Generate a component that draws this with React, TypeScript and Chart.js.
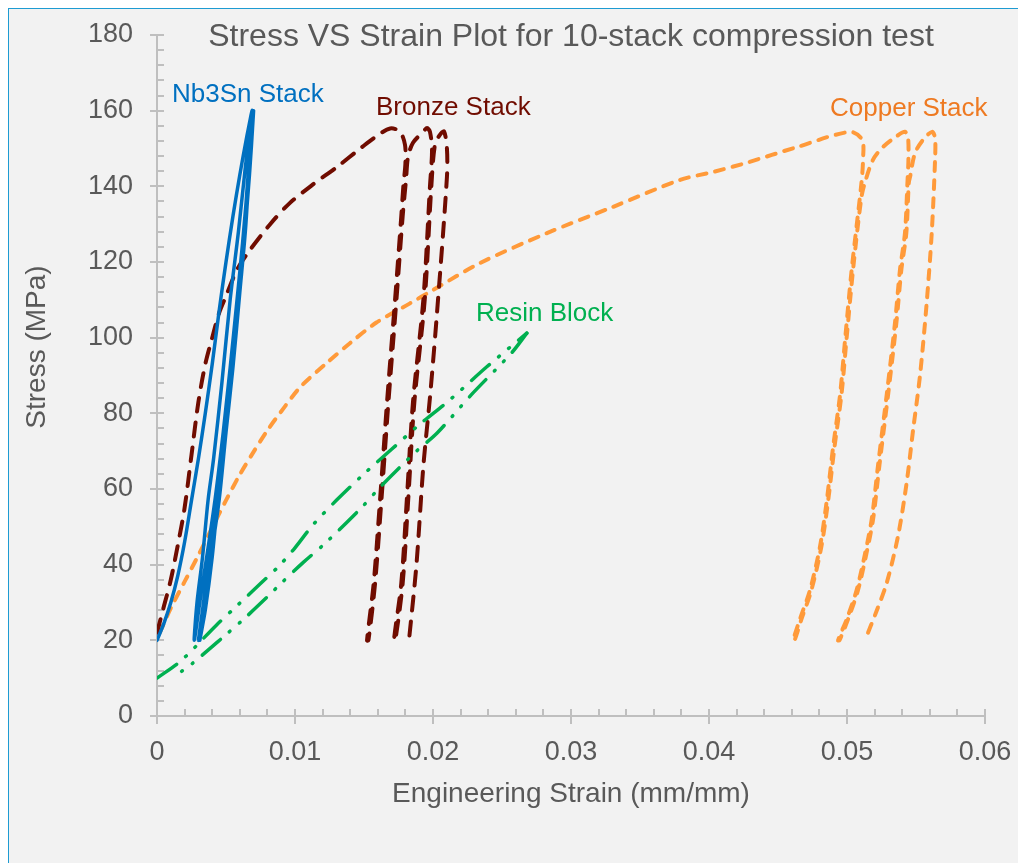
import React, { useEffect, useRef } from "react";
import { Chart, registerables } from "chart.js";

Chart.register(...registerables);

// ---- Nb3Sn stack: first loading, then three unload / reload passes ----
const nb3snStrain = [
  0, 0.0005, 0.001, 0.0015, 0.002, 0.0025, 0.003, 0.0035, 0.004, 0.0045, 0.005, 0.0055, 0.006, 0.0065, 0.0069,
  0.0064, 0.0059, 0.0053, 0.0047, 0.0041, 0.0037, 0.0033, 0.0029, 0.0027,
  0.0031, 0.0036, 0.0042, 0.0048, 0.0054, 0.0059, 0.0063, 0.0066, 0.007,
  0.0066, 0.0062, 0.0058, 0.0053, 0.0048, 0.0043, 0.0038, 0.0033, 0.003,
  0.0034, 0.0039, 0.0045, 0.005, 0.0055, 0.006, 0.0064, 0.0067, 0.007,
  0.0067, 0.0063, 0.0059, 0.0054, 0.0049, 0.0044, 0.004, 0.0035, 0.0031,
];
const nb3snStress = [
  20, 24.5, 30, 37, 46, 57, 68, 80, 93, 107, 120, 132, 143, 153, 160,
  145, 128, 110, 88, 68, 57, 42, 30, 20,
  30, 42, 57, 75, 95, 112, 128, 143, 160,
  142, 125, 110, 92, 75, 57, 42, 28, 20,
  30, 42, 57, 75, 92, 112, 128, 145, 160,
  143, 125, 110, 92, 75, 57, 42, 28, 20,
];

// ---- Bronze stack ----
const bronzeStrain = [
  0, 0.0005, 0.001, 0.0015, 0.002, 0.0025, 0.003, 0.0035, 0.004, 0.0045, 0.005, 0.0058, 0.0067, 0.0082, 0.0096,
  0.0113, 0.013, 0.0149, 0.016, 0.0169, 0.0176, 0.01797, 0.018,
  0.01785, 0.0177, 0.01725, 0.01667, 0.01616, 0.0157, 0.01522,
  0.01532, 0.0158, 0.01626, 0.01677, 0.01735, 0.0178, 0.01805, 0.01819, 0.01855, 0.01928, 0.01957, 0.01978, 0.01993, 0.01978,
  0.0193, 0.01855, 0.0181, 0.0177, 0.01717,
  0.01727, 0.0178, 0.0182, 0.01865, 0.0194, 0.01988, 0.02014, 0.0205, 0.0208, 0.02101, 0.02101,
  0.0203, 0.0198, 0.0193, 0.0188, 0.01826,
];
const bronzeStress = [
  22, 29, 36, 45, 55, 69, 83, 93, 100, 106.5, 111, 118, 123, 130, 135.5,
  140.5, 145, 150.5, 153.5, 155.3, 154.5, 151, 146,
  140, 132, 110, 83, 57, 35, 20,
  20, 35, 57, 83, 110, 132, 142, 147.8, 151.5, 154.4, 155.4, 154.4, 149.6, 140,
  110, 83, 57, 35, 20,
  20, 35, 57, 83, 110, 140, 151, 153.6, 154.5, 150, 142.5,
  107, 85, 66, 40, 20,
];

// ---- Copper stack ----
const copperStrain = [
  0.0002, 0.001, 0.002, 0.003, 0.004, 0.005, 0.006, 0.007, 0.008, 0.009, 0.0104, 0.0123, 0.014, 0.0159, 0.0183,
  0.02, 0.0234, 0.0283, 0.033, 0.0379, 0.0403, 0.0427, 0.0464, 0.0502, 0.0511, 0.05116,
  0.05105, 0.05034, 0.04986, 0.0495, 0.04899, 0.04853, 0.04804, 0.04732, 0.04659, 0.0461,
  0.0462, 0.0467, 0.04742, 0.04814, 0.04863, 0.04909, 0.0496, 0.04996, 0.05044, 0.05104, 0.0513, 0.05188,
  0.05261, 0.05362, 0.0542, 0.05442, 0.05445, 0.05438,
  0.0542, 0.05384, 0.05348, 0.05288, 0.05225, 0.05179, 0.0513, 0.0507, 0.04998, 0.04935,
  0.04945, 0.05008, 0.0508, 0.0514, 0.05189, 0.05235, 0.05298, 0.05358, 0.05394, 0.0543, 0.05448, 0.05457,
  0.05493, 0.05551, 0.05616, 0.05638, 0.05638,
  0.05614, 0.05577, 0.05529, 0.0548, 0.05432, 0.0537, 0.05288, 0.05215, 0.0513,
];
const copperStress = [
  22, 28.5, 35.5, 42.5, 49.8, 57, 63.8, 69.8, 75.5, 80.5, 87, 93.3, 98.6, 104, 109,
  112.6, 119.7, 127.7, 134.5, 141.7, 143.8, 146.2, 150.4, 154.4, 152.3, 147,
  141, 118, 99.4, 85, 71, 56.8, 44.7, 33.3, 25.6, 20,
  20, 25.6, 33.3, 44.7, 56.8, 71, 85, 99.4, 118, 137, 141, 147,
  150.4, 153.3, 154.4, 153, 147, 141,
  127.7, 118, 104, 85, 66.3, 52, 42.8, 33.3, 25.6, 20,
  20, 25.6, 33.3, 42.8, 52, 66.3, 85, 104, 118, 127.7, 141, 142.5,
  148.8, 152.3, 154.4, 152.8, 147,
  127.7, 109, 90, 75.9, 61.6, 47.6, 35.2, 27.8, 20,
];

// ---- Resin block: loading and unloading ----
const resinLoadStrain = [0, 0.0018, 0.0043, 0.0059, 0.0075, 0.0088, 0.0099, 0.0113, 0.013, 0.015, 0.017, 0.019, 0.0212, 0.0239, 0.0268];
const resinLoadStress = [10, 14.8, 24, 29.5, 35, 39.5, 44, 50.5, 57, 64, 70.5, 77, 83.5, 92.3, 101.2];
const resinUnloadStrain = [0.0268, 0.0257, 0.0228, 0.0203, 0.0188, 0.0163, 0.0148, 0.0122, 0.0106, 0.0088, 0.008, 0.0064, 0.005, 0.0037, 0.0026, 0.0017];
const resinUnloadStress = [101.2, 96, 85, 74.8, 70, 61, 55, 45.7, 40.6, 34.4, 31.5, 26, 21.5, 17.4, 14, 11.6];

// ---- Axes ----
const xTickValues = [0, 0.01, 0.02, 0.03, 0.04, 0.05, 0.06];
const yTickValues = [0, 20, 40, 60, 80, 100, 120, 140, 160, 180];
const xMinorStep = 0.002;
const yMinorStep = 4;

const chartTitle = "Stress VS Strain Plot for 10-stack compression test";
const xAxisTitle = "Engineering Strain (mm/mm)";
const yAxisTitle = "Stress (MPa)";

// Curve labels, anchored in data units (left edge, baseline)
const curveLabels = [
  { text: "Nb3Sn Stack", strain: 0.00109, stress: 162.3, color: "#0070c0" },
  { text: "Bronze Stack", strain: 0.01587, stress: 158.9, color: "#700c00" },
  { text: "Copper Stack", strain: 0.04877, stress: 158.6, color: "#ee7a22" },
  { text: "Resin Block", strain: 0.02312, stress: 104.4, color: "#00b050" },
];

const FONT = "'Liberation Sans', Arial, sans-serif";
const TEXT_GRAY = "#595959";
const AXIS_GRAY = "#bfbfbf";

const toPoints = (xs: number[], ys: number[]) => xs.map((x, i) => ({ x, y: ys[i] }));

const decorPlugin = {
  id: "decor",
  beforeDatasetsDraw(chart: any) {
    const { ctx, chartArea, scales } = chart;
    const xs = scales.x;
    const ys = scales.y;
    const L = chartArea.left;
    const B = chartArea.bottom;
    ctx.save();
    ctx.strokeStyle = AXIS_GRAY;
    ctx.lineWidth = 2;
    ctx.beginPath();
    // axis lines
    ctx.moveTo(L, chartArea.top);
    ctx.lineTo(L, B);
    ctx.moveTo(L, B);
    ctx.lineTo(chartArea.right, B);
    // y ticks: major cross the axis, minor sit inside
    for (let v = 0; v <= 180 + 1e-9; v += yMinorStep) {
      const y = Math.round(ys.getPixelForValue(v));
      const major = yTickValues.includes(v);
      ctx.moveTo(major ? L - 7 : L, y);
      ctx.lineTo(L + 7, y);
    }
    // x ticks
    for (let i = 0; i <= 30; i++) {
      const v = i * xMinorStep;
      const x = Math.round(xs.getPixelForValue(v));
      const major = i % 5 === 0;
      ctx.moveTo(x, B - 7);
      ctx.lineTo(x, major ? B + 8 : B);
    }
    ctx.stroke();
    ctx.restore();
  },
  afterDraw(chart: any) {
    const { ctx, chartArea, scales } = chart;
    ctx.save();
    ctx.fillStyle = TEXT_GRAY;
    ctx.textAlign = "center";
    ctx.textBaseline = "alphabetic";
    ctx.font = `32px ${FONT}`;
    ctx.fillText(chartTitle, (chartArea.left + chartArea.right) / 2, chartArea.top + 11);

    ctx.font = `28px ${FONT}`;
    ctx.textBaseline = "middle";
    ctx.fillText(xAxisTitle, (chartArea.left + chartArea.right) / 2, chartArea.bottom + 78);

    ctx.save();
    ctx.translate(28, 338);
    ctx.rotate(-Math.PI / 2);
    ctx.fillText(yAxisTitle, 0, 0);
    ctx.restore();

    ctx.font = `26px ${FONT}`;
    ctx.textAlign = "left";
    ctx.textBaseline = "alphabetic";
    for (const l of curveLabels) {
      ctx.fillStyle = l.color;
      ctx.fillText(l.text, scales.x.getPixelForValue(l.strain), scales.y.getPixelForValue(l.stress));
    }
    ctx.restore();
  },
};

export default function App() {
  const canvasRef = useRef<HTMLCanvasElement>(null);

  useEffect(() => {
    const prevOverflow = document.body.style.overflow;
    document.body.style.overflow = "hidden";
    const canvas = canvasRef.current;
    if (!canvas) return;

    const base = {
      showLine: true,
      pointRadius: 0,
      pointHoverRadius: 0,
      fill: false,
      tension: 0.3,
      borderCapStyle: "round" as const,
      borderJoinStyle: "round" as const,
    };

    const chart = new Chart(canvas, {
      type: "scatter",
      data: {
        datasets: [
          {
            ...base,
            label: "Nb3Sn Stack",
            data: toPoints(nb3snStrain, nb3snStress),
            borderColor: "#0070c0",
            borderWidth: 3.5,
          },
          {
            ...base,
            label: "Resin Block (loading)",
            data: toPoints(resinLoadStrain, resinLoadStress),
            borderColor: "#00b050",
            borderWidth: 3.5,
            borderDash: [24, 12, 1, 12, 1, 12],
          },
          {
            ...base,
            label: "Resin Block (unloading)",
            data: toPoints(resinUnloadStrain, resinUnloadStress),
            borderColor: "#00b050",
            borderWidth: 3.5,
            borderDash: [24, 12, 1, 12, 1, 12],
          },
          {
            ...base,
            label: "Bronze Stack",
            data: toPoints(bronzeStrain, bronzeStress),
            borderColor: "#700c00",
            borderWidth: 4,
            borderDash: [14, 11],
          },
          {
            ...base,
            label: "Copper Stack",
            data: toPoints(copperStrain, copperStress),
            borderColor: "#ff9a3a",
            borderWidth: 4,
            borderDash: [9, 9],
          },
        ],
      },
      options: {
        animation: false,
        responsive: false,
        devicePixelRatio: 1,
        layout: { padding: { left: 0, top: 26, right: 41, bottom: 87 } },
        plugins: {
          legend: { display: false },
          tooltip: { enabled: false },
          title: { display: false },
        },
        scales: {
          x: {
            type: "linear",
            min: 0,
            max: 0.06,
            afterFit: (s: any) => {
              s.height = 60;
              s.paddingLeft = 0;
              s.paddingRight = 0;
            },
            afterBuildTicks: (s: any) => {
              s.ticks = xTickValues.map((value) => ({ value }));
            },
            grid: { display: false, drawTicks: false },
            border: { display: false },
            ticks: {
              padding: 20,
              color: TEXT_GRAY,
              font: { family: FONT, size: 27 },
              maxRotation: 0,
              autoSkip: false,
              callback: (v: any) => String(Number(Number(v).toFixed(2))),
            },
          },
          y: {
            type: "linear",
            min: 0,
            max: 180,
            afterFit: (s: any) => {
              s.width = 148;
              s.paddingTop = 0;
              s.paddingBottom = 0;
            },
            afterBuildTicks: (s: any) => {
              s.ticks = yTickValues.map((value) => ({ value }));
            },
            grid: { display: false, drawTicks: false },
            border: { display: false },
            ticks: {
              padding: 24,
              color: TEXT_GRAY,
              font: { family: FONT, size: 27 },
              autoSkip: false,
            },
          },
        },
      },
      plugins: [decorPlugin],
    });

    return () => {
      chart.destroy();
      document.body.style.overflow = prevOverflow;
    };
  }, []);

  return (
    <div
      style={{
        width: 1040,
        height: 880,
        border: "1px solid #1e9bd2",
        background: "#f2f2f2",
        boxSizing: "border-box",
      }}
    >
      <canvas ref={canvasRef} width={1017} height={854} style={{ display: "block", width: 1017, height: 854 }} />
    </div>
  );
}
